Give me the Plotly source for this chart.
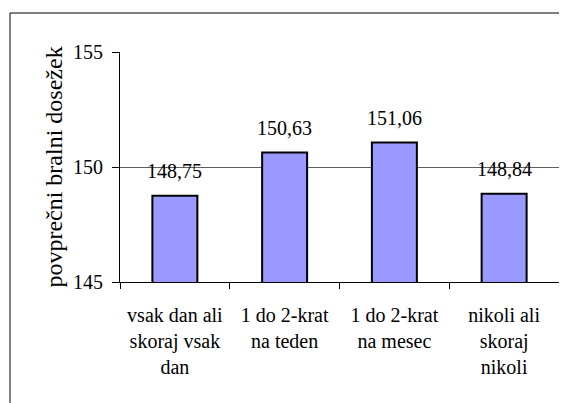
import plotly.graph_objects as go

categories = ["vsak dan ali<br>skoraj vsak<br>dan", "1 do 2-krat<br>na teden",
              "1 do 2-krat<br>na mesec", "nikoli ali<br>skoraj<br>nikoli"]
values = [148.75, 150.63, 151.06, 148.84]
y_ticks = [145, 150, 155]

font_family = "Liberation Serif, Times New Roman, DejaVu Serif, serif"

fig = go.Figure()
fig.add_trace(go.Bar(
    x=categories,
    y=values,
    width=0.41,
    marker=dict(color="#9999FF", line=dict(color="black", width=2)),
    hoverinfo="x+y",
))

# data labels above the bars
for c, v in zip(categories, values):
    fig.add_annotation(
        x=c, y=v, text=f"{v:.2f}".replace(".", ","),
        showarrow=False, yanchor="bottom", yshift=12,
        font=dict(size=20, family=font_family, color="black"),
    )

# page has an 8px body margin, so the figure is 8px smaller
W, H = 559, 395
off = 8
l, r, t, b = 120 - off, 8, 52 - off, 121
pw, ph = W - l - r, H - t - b
fig.add_shape(
    type="rect", xref="paper", yref="paper",
    x0=(10 - off - l) / pw, x1=(W + 5 - l) / pw,
    y0=-(b + 5) / ph, y1=(H - b - (13 - off)) / ph,
    line=dict(color="black", width=1), fillcolor="rgba(0,0,0,0)", layer="below",
)

fig.update_layout(
    width=W, height=H,
    margin=dict(l=l, r=r, t=t, b=b, autoexpand=False),
    paper_bgcolor="white", plot_bgcolor="white",
    font=dict(family=font_family, size=20, color="black"),
    showlegend=False,
    separators=",.",
    bargap=0.59,
)
fig.update_xaxes(
    showline=True, linecolor="black", linewidth=1, automargin=False,
    ticks="outside", ticklen=6, tickcolor="black", tickson="boundaries",
    ticklabelstandoff=15, showgrid=False,
)
fig.update_yaxes(
    range=[145, 155], tickvals=y_ticks, automargin=False,
    showline=True, linecolor="black", linewidth=1,
    ticks="outside", ticklen=7, tickcolor="black", ticklabelstandoff=5,
    showgrid=True, gridcolor="#606060", gridwidth=1, zeroline=False,
    title=dict(text="povprečni bralni dosežek", standoff=3),
)

fig.write_html("out.html")
